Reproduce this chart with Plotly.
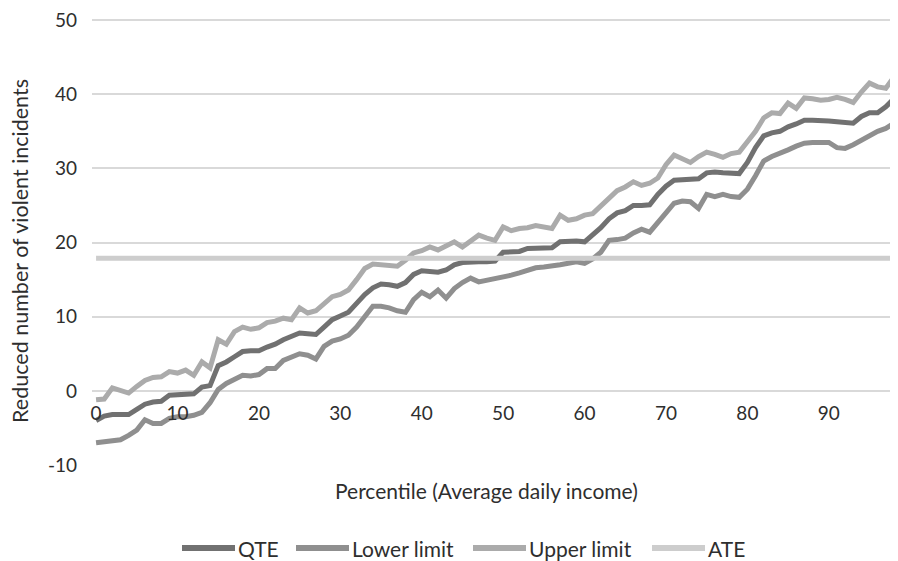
import plotly.graph_objects as go

percentile = list(range(99))
qte = [-4.0, -3.4, -3.2, -3.2, -3.2, -2.5, -1.8, -1.5, -1.4, -0.6,
       -0.5, -0.5, -0.4, 0.5, 0.7, 3.4, 3.9, 4.6, 5.3, 5.4,
       5.4, 5.9, 6.3, 6.9, 7.3, 7.8, 7.7, 7.6, 8.6, 9.6,
       10.1, 10.6, 11.8, 13.0, 13.9, 14.4, 14.3, 14.1, 14.6, 15.7,
       16.2, 16.1, 16.0, 16.3, 17.0, 17.3, 17.4, 17.4, 17.4, 17.5,
       18.7, 18.7, 18.8, 19.2, 19.2, 19.2, 19.3, 20.1, 20.2, 20.2,
       20.1, 21.0, 22.0, 23.2, 24.0, 24.3, 25.0, 25.0, 25.1, 26.5,
       27.6, 28.4, 28.5, 28.5, 28.6, 29.4, 29.5, 29.4, 29.4, 29.3,
       30.8, 32.8, 34.4, 34.8, 35.0, 35.6, 36.0, 36.5, 36.5, 36.5,
       36.4, 36.3, 36.2, 36.1, 37.0, 37.5, 37.5, 38.3, 39.4]
lower = [-7.0, -6.9, -6.7, -6.6, -6.0, -5.3, -3.9, -4.4, -4.4, -3.7,
         -3.5, -3.5, -3.3, -2.9, -1.6, 0.2, 1.0, 1.6, 2.1, 2.0,
         2.2, 3.0, 3.0, 4.1, 4.5, 5.0, 4.8, 4.3, 6.0, 6.7,
         7.0, 7.5, 8.6, 10.0, 11.4, 11.4, 11.2, 10.8, 10.6, 12.3,
         13.3, 12.7, 13.6, 12.5, 13.8, 14.6, 15.2, 14.7, 14.9, 15.1,
         15.3, 15.6, 15.9, 16.3, 16.6, 16.7, 16.8, 17.0, 17.2, 17.4,
         17.2, 17.8, 18.7, 20.3, 20.4, 20.6, 21.3, 21.8, 21.4, 22.6,
         24.0, 25.3, 25.6, 25.5, 24.6, 26.5, 26.2, 26.5, 26.2, 26.1,
         27.2, 29.0, 31.0, 31.6, 32.0, 32.5, 33.0, 33.4, 33.5, 33.5,
         33.5, 32.8, 32.7, 33.2, 33.8, 34.5, 35.0, 35.4, 36.1]
upper = [-1.2, -1.1, 0.4, 0.0, -0.3, 0.6, 1.4, 1.8, 1.9, 2.6,
         2.4, 2.8, 2.1, 3.9, 3.1, 6.9, 6.3, 8.0, 8.6, 8.3,
         8.5, 9.2, 9.4, 9.8, 9.6, 11.2, 10.5, 10.8, 11.8, 12.7,
         13.0, 13.6, 15.0, 16.5, 17.1, 17.0, 16.9, 16.8, 17.6, 18.6,
         18.9, 19.4, 19.0, 19.6, 20.1, 19.4, 20.2, 21.0, 20.6, 20.3,
         22.1, 21.6, 21.9, 22.0, 22.3, 22.1, 21.9, 23.7, 23.0, 23.2,
         23.7, 23.9, 25.0, 26.0, 27.0, 27.5, 28.2, 27.7, 28.0, 28.7,
         30.5, 31.8, 31.3, 30.8, 31.6, 32.2, 31.9, 31.5, 32.0, 32.2,
         33.6, 35.0, 36.8, 37.5, 37.4, 38.8, 38.1, 39.5, 39.4, 39.2,
         39.3, 39.6, 39.3, 38.9, 40.3, 41.5, 41.0, 40.8, 42.3]
ate_value = 17.9
ate = [ate_value] * len(percentile)

x_ticks = list(range(0, 100, 10))
y_ticks = list(range(-10, 51, 10))
y_tick_labels = [str(v) for v in y_ticks]

series_names = ["QTE", "Lower limit", "Upper limit", "ATE"]
series_colors = ["#717171", "#8f8f8f", "#ababab", "#cdcdcd"]
series_values = [qte, lower, upper, ate]

FONT = "Lato, Open Sans, sans-serif"
TXT = "#2e2e2e"

# figure geometry (page adds an 8px body margin)
W, H = 890, 553
ML, MR, MT, MB = 84, 0, 11, 96
PW, PH = W - ML - MR, H - MT - MB
Y_RANGE = [-10, 50.15]

def px_x(p):
    return (p - ML) / PW

def px_y(p):
    return (H - MB - p) / PH

fig = go.Figure()
for name, vals, col in zip(series_names, series_values, series_colors):
    fig.add_trace(go.Scatter(x=percentile, y=vals, mode="lines", name=name,
                             line=dict(color=col, width=5), showlegend=False))

# custom legend (longer line samples like the original)
legend_line_starts = [174, 288, 465, 644]
legend_line_len = 53
legend_y = px_y(540)
shapes, annotations = [], []
for name, col, x0 in zip(series_names, series_colors, legend_line_starts):
    shapes.append(dict(type="line", xref="paper", yref="paper",
                       x0=px_x(x0), x1=px_x(x0 + legend_line_len), y0=legend_y, y1=legend_y,
                       line=dict(color=col, width=6)))
    annotations.append(dict(text=name, xref="paper", yref="paper",
                            x=px_x(x0 + legend_line_len + 1), xanchor="left",
                            y=legend_y, yanchor="middle", showarrow=False,
                            font=dict(size=21, color=TXT)))

annotations += [
    dict(text="Percentile (Average daily income)", x=0.49, xref="paper",
         y=px_y(482), yref="paper", yanchor="middle", showarrow=False,
         font=dict(size=21, color=TXT)),
    dict(text="Reduced number of violent incidents", x=px_x(12), xref="paper",
         xanchor="center", y=0.48, yref="paper", yanchor="middle", textangle=-90,
         showarrow=False, font=dict(size=21.5, color=TXT)),
]

fig.update_layout(
    width=W, height=H,
    margin=dict(l=ML, r=MR, t=MT, b=MB, autoexpand=False),
    paper_bgcolor="white", plot_bgcolor="white",
    font=dict(family=FONT, size=19, color=TXT),
    showlegend=False,
    xaxis=dict(range=[-0.5, 98.5], tickvals=x_ticks, ticktext=[str(t) for t in x_ticks],
               showgrid=False, zeroline=False, showline=False, ticks="",
               anchor="free", position=(0 - Y_RANGE[0]) / (Y_RANGE[1] - Y_RANGE[0]),
               ticklabelstandoff=9, automargin=False,
               tickfont=dict(size=19, color=TXT)),
    yaxis=dict(range=Y_RANGE, tickvals=y_ticks, ticktext=y_tick_labels,
               showgrid=True, gridcolor="#d9d9d9",
               gridwidth=2, zeroline=False, showline=False, ticks="", automargin=False,
               ticklabelstandoff=14, ticklabeloverflow="allow",
               tickfont=dict(size=19, color=TXT)),
    shapes=shapes,
    annotations=annotations,
)

fig.write_html("out.html")
